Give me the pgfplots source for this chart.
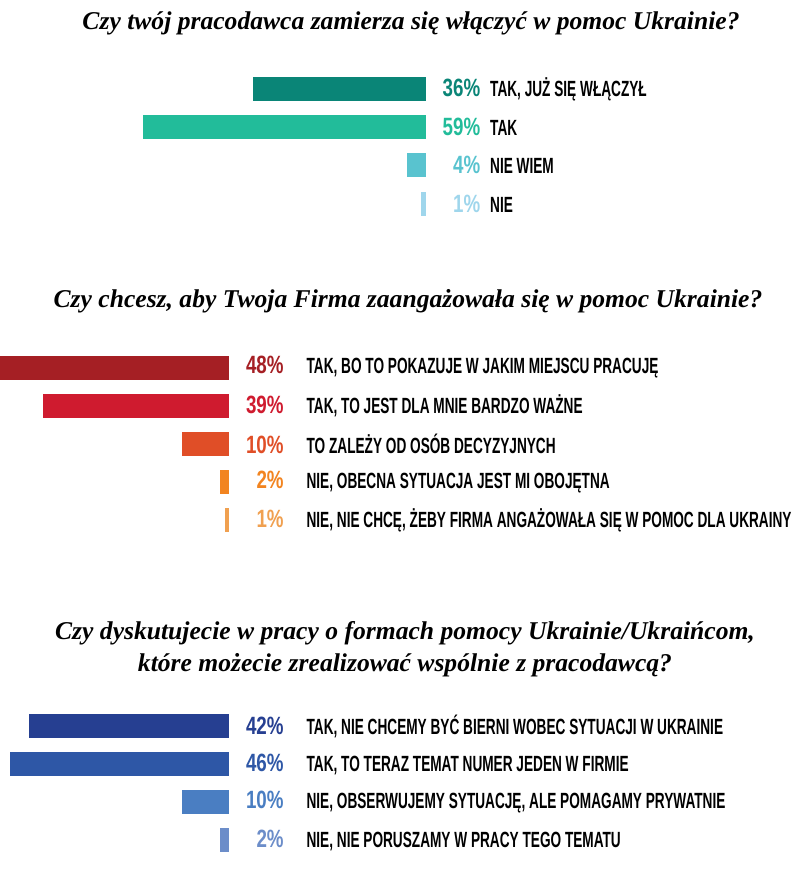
\documentclass[border=0pt]{standalone}
\usepackage{pgfplots}
\pgfplotsset{compat=1.18}
\usepackage{fontspec}
\newfontfamily\lab{Liberation Sans}[FakeStretch=0.62]
\newfontfamily\pf{Liberation Sans}[FakeStretch=0.75]
\newfontfamily\tit{Liberation Serif}
\definecolor{a1}{HTML}{0A8577}
\definecolor{a2}{HTML}{22BC9A}
\definecolor{a3}{HTML}{59C3CF}
\definecolor{a4}{HTML}{9FD6EC}
\definecolor{b1}{HTML}{A51F24}
\definecolor{b2}{HTML}{CF1B2F}
\definecolor{b3}{HTML}{E04E27}
\definecolor{b4}{HTML}{F28420}
\definecolor{b5}{HTML}{F0A050}
\definecolor{c1}{HTML}{263F91}
\definecolor{c2}{HTML}{2E57A6}
\definecolor{c3}{HTML}{4A7EC2}
\definecolor{c4}{HTML}{6C8DC9}
\newcommand\pct[3]{\makebox[50pt][r]{\fontsize{25}{25}\pf\bfseries\color{#1}#2\%}\hspace{#3}}
\pgfplotsset{hb/.style={xbar, bar width=24pt, bar shift=0pt, x dir=reverse, y dir=reverse,
  xmin=0, scale only axis, axis line style={draw=none}, xtick=\empty, ytick={1,2,3,4,5},
  major tick length=0pt, yticklabel pos=right, enlargelimits=false, clip=false,
  yticklabel style={anchor=west, inner sep=0pt, xshift=4pt, font=\fontsize{22}{22}\selectfont\lab\bfseries},
  every axis plot/.append style={draw=none}}}
\tikzset{ttl/.style={font=\fontsize{25.6}{25.6}\selectfont\tit\bfseries\itshape, inner sep=0pt}}
\begin{document}
\begin{tikzpicture}
\useasboundingbox (0,0) rectangle (809pt,880pt);
\node[ttl] at (411pt,857pt) {Czy twój pracodawca zamierza się włączyć w pomoc Ukrainie?};
\node[ttl] at (408pt,579pt) {Czy chcesz, aby Twoja Firma zaangażowała się w pomoc Ukrainie?};
\node[ttl] at (405pt,247pt) {Czy dyskutujecie w pracy o formach pomocy Ukrainie/Ukraińcom,};
\node[ttl] at (405pt,215pt) {które możecie zrealizować wspólnie z pracodawcą?};
\begin{axis}[hb, xmax=60, ymin=0.5, ymax=4.5, width=288pt, height=152.8pt,
  at={(282pt,733.75pt)}, anchor=center,
  yticklabels={{\pct{a1}{36}{10pt}TAK, JUŻ SIĘ WŁĄCZYŁ},{\pct{a2}{59}{10pt}TAK},{\pct{a3}{4}{10pt}NIE WIEM},{\pct{a4}{1}{10pt}NIE}}]
\addplot[fill=a1] coordinates {(36,1)};
\addplot[fill=a2] coordinates {(59,2)};
\addplot[fill=a3] coordinates {(4,3)};
\addplot[fill=a4] coordinates {(1,4)};
\end{axis}
\begin{axis}[hb, xmax=48.1, ymin=0.5, ymax=5.5, width=229.4pt, height=190.5pt,
  at={(114.7pt,436.25pt)}, anchor=center,
  yticklabels={{\pct{b1}{48}{23pt}TAK, BO TO POKAZUJE W JAKIM MIEJSCU PRACUJĘ},{\pct{b2}{39}{23pt}TAK, TO JEST DLA MNIE BARDZO WAŻNE},{\pct{b3}{10}{23pt}TO ZALEŻY OD OSÓB DECYZYJNYCH},{\pct{b4}{2}{23pt}NIE, OBECNA SYTUACJA JEST MI OBOJĘTNA},{\pct{b5}{1}{23pt}NIE, NIE CHCĘ, ŻEBY FIRMA ANGAŻOWAŁA SIĘ W POMOC DLA UKRAINY}}]
\addplot[fill=b1] coordinates {(48,1)};
\addplot[fill=b2] coordinates {(39,2)};
\addplot[fill=b3] coordinates {(10,3)};
\addplot[fill=b4] coordinates {(2,4)};
\addplot[fill=b5] coordinates {(1,5)};
\end{axis}
\begin{axis}[hb, xmax=48.1, ymin=0.5, ymax=4.5, width=229.4pt, height=152pt,
  at={(114.7pt,97pt)}, anchor=center,
  yticklabels={{\pct{c1}{42}{23pt}TAK, NIE CHCEMY BYĆ BIERNI WOBEC SYTUACJI W UKRAINIE},{\pct{c2}{46}{23pt}TAK, TO TERAZ TEMAT NUMER JEDEN W FIRMIE},{\pct{c3}{10}{23pt}NIE, OBSERWUJEMY SYTUACJĘ, ALE POMAGAMY PRYWATNIE},{\pct{c4}{2}{23pt}NIE, NIE PORUSZAMY W PRACY TEGO TEMATU}}]
\addplot[fill=c1] coordinates {(42,1)};
\addplot[fill=c2] coordinates {(46,2)};
\addplot[fill=c3] coordinates {(10,3)};
\addplot[fill=c4] coordinates {(2,4)};
\end{axis}
\end{tikzpicture}
\end{document}
